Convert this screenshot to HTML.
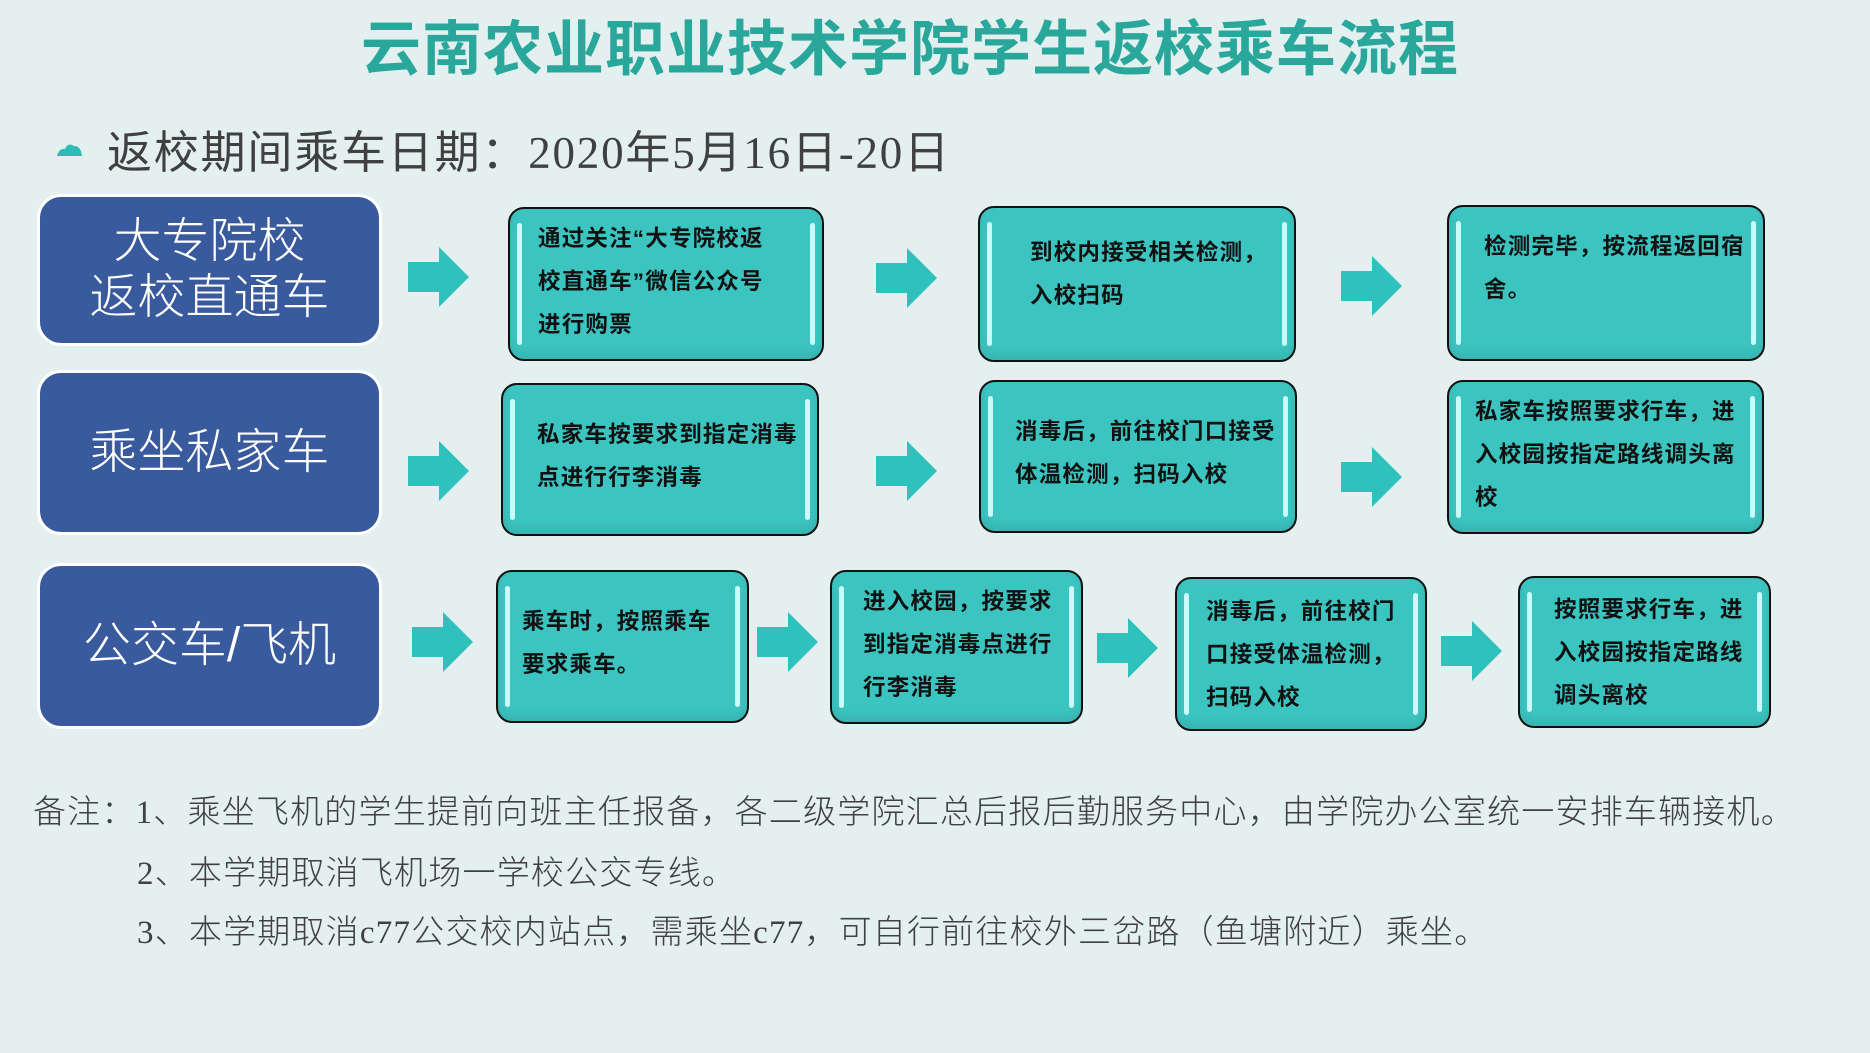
<!DOCTYPE html>
<html><head><meta charset="utf-8">
<style>
body{margin:0;width:1870px;height:1053px;background:#e4f0f0;position:relative;overflow:hidden;font-family:"Liberation Sans","Noto Sans CJK SC",sans-serif;}
.a{position:absolute;}
.title{left:0;width:1820px;top:1px;text-align:center;font-size:60px;font-weight:bold;color:#2aa79b;letter-spacing:1px;}
.sub{left:107px;top:116px;font-size:45px;color:#404040;white-space:nowrap;font-family:"Liberation Serif","Noto Sans CJK SC",serif;letter-spacing:1.8px;}
.blue{position:absolute;left:37px;width:345px;background:#3a5a9e;border:3px solid #fff;border-radius:24px;box-sizing:border-box;color:#fff;font-size:48px;font-weight:300;display:flex;align-items:center;justify-content:center;text-align:center;line-height:56px;}
.box{position:absolute;background:#3cc4c0;border:2px solid #111;border-radius:16px;box-sizing:border-box;font-size:22.5px;font-weight:bold;color:#111;line-height:43px;letter-spacing:1.2px;box-shadow:inset 0 -6px 8px rgba(0,0,0,0.08);}
.box::before,.box::after{content:"";position:absolute;top:14px;bottom:14px;width:5px;border-radius:3px;background:#c8fbfa;}
.box::before{left:7px}.box::after{right:7px}
.arr{position:absolute;width:61px;height:60px;}
.note{position:absolute;font-size:33px;color:#404040;white-space:nowrap;font-weight:300;font-family:"Liberation Serif","Noto Sans CJK SC",serif;letter-spacing:1.2px;}
</style></head><body>
<div class="a title">云南农业职业技术学院学生返校乘车流程</div>
<svg class="a" style="left:55px;top:140px" width="30" height="20"><path d="M2 16 Q4 8 10 9 Q13 2 19 6 Q26 6 27 16 Z" fill="#2bbdb6"/></svg>
<div class="a sub">返校期间乘车日期：2020年5月16日-20日</div>

<div class="blue" style="top:194px;height:152px">大专院校<br>返校直通车</div>
<div class="blue" style="top:370px;height:165px">乘坐私家车</div>
<div class="blue" style="top:563px;height:166px">公交车/飞机</div>

<svg width="0" height="0" style="position:absolute"><defs><symbol id="ar" viewBox="0 0 61 60"><path d="M0 15 H31 V0 L61 30 L31 60 V45 H0 Z" fill="#2fc1bc"/></symbol></defs></svg>
<svg class="arr" style="left:408px;top:247px"><use href="#ar"/></svg>
<svg class="arr" style="left:876px;top:248px"><use href="#ar"/></svg>
<svg class="arr" style="left:1341px;top:256px"><use href="#ar"/></svg>
<svg class="arr" style="left:408px;top:441px"><use href="#ar"/></svg>
<svg class="arr" style="left:876px;top:441px"><use href="#ar"/></svg>
<svg class="arr" style="left:1341px;top:447px"><use href="#ar"/></svg>
<svg class="arr" style="left:412px;top:612px"><use href="#ar"/></svg>
<svg class="arr" style="left:757px;top:612px"><use href="#ar"/></svg>
<svg class="arr" style="left:1097px;top:618px"><use href="#ar"/></svg>
<svg class="arr" style="left:1441px;top:621px"><use href="#ar"/></svg>

<div class="box" style="left:508px;top:207px;width:316px;height:154px;padding:8px 0 0 28px">通过关注“大专院校返<br>校直通车”微信公众号<br>进行购票</div>
<div class="box" style="left:978px;top:206px;width:318px;height:156px;padding:23px 0 0 50px">到校内接受相关检测，<br>入校扫码</div>
<div class="box" style="left:1447px;top:205px;width:318px;height:156px;padding:18px 0 0 35px">检测完毕，按流程返回宿<br>舍。</div>

<div class="box" style="left:501px;top:383px;width:318px;height:153px;padding:28px 0 0 34px">私家车按要求到指定消毒<br>点进行行李消毒</div>
<div class="box" style="left:979px;top:380px;width:318px;height:153px;padding:28px 0 0 34px">消毒后，前往校门口接受<br>体温检测，扫码入校</div>
<div class="box" style="left:1447px;top:380px;width:317px;height:154px;padding:8px 0 0 26px">私家车按照要求行车，进<br>入校园按指定路线调头离<br>校</div>

<div class="box" style="left:496px;top:570px;width:253px;height:153px;padding:28px 0 0 24px">乘车时，按照乘车<br>要求乘车。</div>
<div class="box" style="left:830px;top:570px;width:253px;height:154px;padding:8px 0 0 31px">进入校园，按要求<br>到指定消毒点进行<br>行李消毒</div>
<div class="box" style="left:1175px;top:577px;width:252px;height:154px;padding:11px 0 0 29px">消毒后，前往校门<br>口接受体温检测，<br>扫码入校</div>
<div class="box" style="left:1518px;top:576px;width:253px;height:152px;padding:10px 0 0 34px">按照要求行车，进<br>入校园按指定路线<br>调头离校</div>

<div class="note" style="left:33px;top:785px">备注：1、乘坐飞机的学生提前向班主任报备，各二级学院汇总后报后勤服务中心，由学院办公室统一安排车辆接机。</div>
<div class="note" style="left:137px;top:846px">2、本学期取消飞机场一学校公交专线。</div>
<div class="note" style="left:137px;top:905px">3、本学期取消c77公交校内站点，需乘坐c77，可自行前往校外三岔路（鱼塘附近）乘坐。</div>
</body></html>
